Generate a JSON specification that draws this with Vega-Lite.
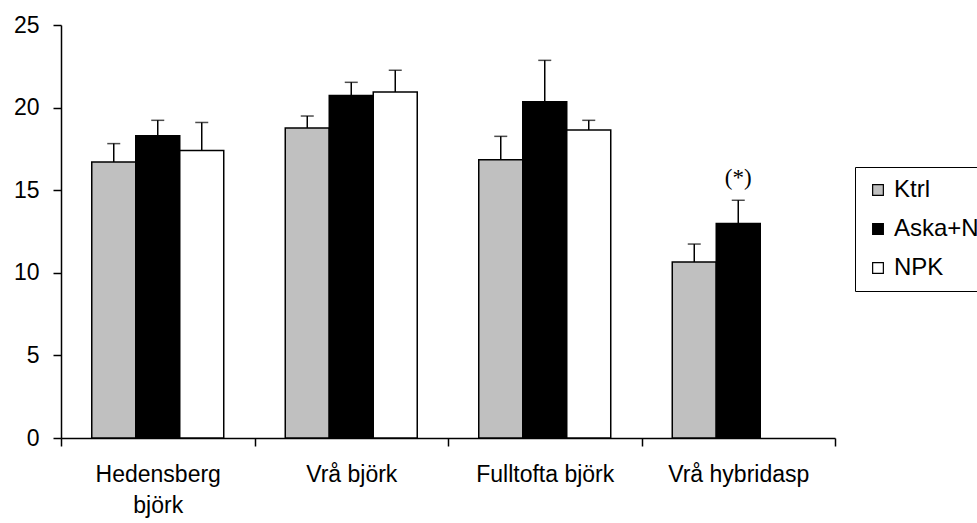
{
  "$schema": "https://vega.github.io/schema/vega-lite/v6.json",
  "width": 774,
  "height": 413,
  "autosize": {"type": "none"},
  "padding": {"left": 61, "top": 25, "right": 142, "bottom": 85},
  "background": "white",
  "config": {
    "view": {"stroke": null},
    "font": "Liberation Sans",
    "axis": {"domainColor": "black", "tickColor": "black", "labelColor": "black", "domainWidth": 1.5, "tickWidth": 1.5, "grid": false, "labelFontSize": 23, "labelFont": "Liberation Sans"}
  },
  "data": {
    "values": [
      {"site": "Hedensberg björk", "treatment": "Ktrl", "mean": 16.7, "upper": 17.82},
      {"site": "Hedensberg björk", "treatment": "Aska+N", "mean": 18.3, "upper": 19.23},
      {"site": "Hedensberg björk", "treatment": "NPK", "mean": 17.4, "upper": 19.1},
      {"site": "Vrå björk", "treatment": "Ktrl", "mean": 18.77, "upper": 19.49},
      {"site": "Vrå björk", "treatment": "Aska+N", "mean": 20.73, "upper": 21.53},
      {"site": "Vrå björk", "treatment": "NPK", "mean": 20.94, "upper": 22.26},
      {"site": "Fulltofta björk", "treatment": "Ktrl", "mean": 16.85, "upper": 18.26},
      {"site": "Fulltofta björk", "treatment": "Aska+N", "mean": 20.36, "upper": 22.86},
      {"site": "Fulltofta björk", "treatment": "NPK", "mean": 18.64, "upper": 19.23},
      {"site": "Vrå hybridasp", "treatment": "Ktrl", "mean": 10.65, "upper": 11.74},
      {"site": "Vrå hybridasp", "treatment": "Aska+N", "mean": 12.98, "upper": 14.39, "note": "(*)"}
    ]
  },
  "encoding": {
    "x": {
      "field": "site", "type": "nominal",
      "sort": ["Hedensberg björk", "Vrå björk", "Fulltofta björk", "Vrå hybridasp"],
      "scale": {"paddingInner": 0, "paddingOuter": 0},
      "axis": {"title": null, "labelAngle": 0, "tickBand": "extent", "tickSize": 8, "labelPadding": 17, "labelLineHeight": 31,
        "labelExpr": "datum.value == 'Hedensberg björk' ? ['Hedensberg', 'björk'] : datum.value"}
    },
    "xOffset": {
      "field": "treatment", "type": "nominal",
      "sort": ["Ktrl", "Aska+N", "NPK"],
      "scale": {"domain": ["Ktrl", "Aska+N", "NPK"], "paddingInner": 0, "paddingOuter": 0.699}
    }
  },
  "layer": [
    {
      "mark": {"type": "rule", "stroke": "black", "strokeWidth": 1.5},
      "encoding": {
        "y": {"field": "mean", "type": "quantitative"},
        "y2": {"field": "upper"}
      }
    },
    {
      "mark": {"type": "tick", "color": "black", "size": 13, "thickness": 1.5},
      "encoding": {
        "y": {"field": "upper", "type": "quantitative"}
      }
    },
    {
      "mark": {"type": "bar", "stroke": "black", "strokeWidth": 1.5},
      "encoding": {
        "y": {
          "field": "mean", "type": "quantitative",
          "scale": {"domain": [0, 25], "nice": false},
          "axis": {"title": null, "values": [0, 5, 10, 15, 20, 25], "tickSize": 8, "labelPadding": 14}
        },
        "fill": {
          "field": "treatment", "type": "nominal",
          "scale": {"domain": ["Ktrl", "Aska+N", "NPK"], "range": ["#c0c0c0", "#000000", "#ffffff"]},
          "legend": {
            "title": null, "orient": "none", "legendX": 794, "legendY": 142,
            "symbolType": "square", "symbolSize": 115, "symbolStrokeColor": "black", "symbolStrokeWidth": 1.2,
            "labelFontSize": 24, "labelColor": "black", "labelFont": "Liberation Sans", "labelOffset": 4,
            "strokeColor": "black", "padding": 11, "rowPadding": 15, "fillColor": "white", "labelLimit": 300
          }
        }
      }
    },
    {
      "mark": {"type": "text", "font": "Liberation Serif", "fontSize": 23, "baseline": "middle", "color": "black"},
      "encoding": {
        "y": {"datum": 15.72, "type": "quantitative"},
        "text": {"field": "note"}
      },
      "transform": [{"filter": "datum.note"}]
    }
  ]
}
